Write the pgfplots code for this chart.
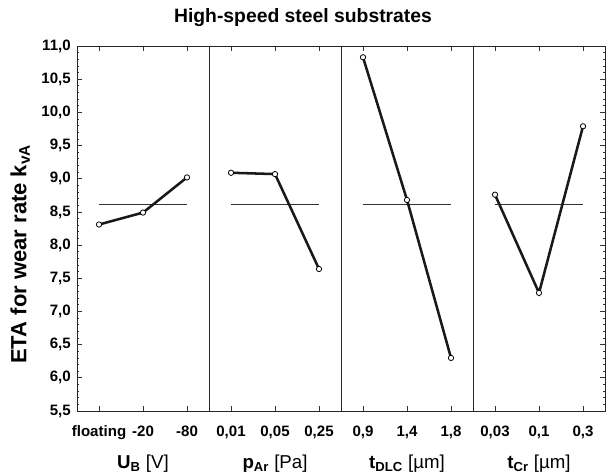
\documentclass[border=0pt]{standalone}
\usepackage{fontspec}
\setmainfont{Liberation Sans}
\usepackage{pgfplots}
\pgfplotsset{compat=1.18}
\usepgfplotslibrary{groupplots}

\pgfplotsset{
  meanline/.style={black!80, line width=0.7pt, forget plot},
  eta/.style={black!90, line width=1.9pt, mark=*, mark size=2pt,
    mark options={fill=white, draw=black, line width=0.6pt}},
}

\begin{document}
\begin{tikzpicture}
\begin{groupplot}[
  group style={group size=4 by 1, horizontal sep=0pt, group name=G},
  scale only axis, width=99pt, height=273.75pt,
  xmin=0.5, xmax=3.5, ymin=5.5, ymax=11,
  xtick={1,2,3}, xtick pos=both, tick align=inside,
  major tick length=3.5pt, minor tick length=1.8pt,
  every tick/.style={black!80, line width=0.5pt},
  axis line style={black!85, line width=0.6pt},
  ytick={5.5,6,6.5,7,7.5,8,8.5,9,9.5,10,10.5,11},
  minor y tick num=4,
  /pgf/number format/use comma, /pgf/number format/fixed,
  /pgf/number format/fixed zerofill, /pgf/number format/precision=1,
  /pgf/number format/assume math mode=true,
  xticklabel style={font=\bfseries\fontsize{11.3}{13}\selectfont, anchor=base, yshift=-19pt},
  yticklabel style={font=\bfseries\fontsize{11.3}{13}\selectfont, anchor=east, inner sep=0pt, xshift=-4.5pt},
  xlabel style={font=\fontsize{14}{16}\selectfont, at={(rel axis cs:0.5,0)}, anchor=base, yshift=-43pt},
]
\nextgroupplot[ytick pos=left, xticklabels={floating,-20,-80},
  xlabel={\textbf{U\textsubscript{B}} [V]},
  ylabel={ETA for wear rate k\textsubscript{vA}},
  ylabel style={font=\bfseries\fontsize{16.5}{18}\selectfont, at={(rel axis cs:-0.43,0.43)}, anchor=center}]
\addplot[meanline] coordinates {(1,8.61) (3,8.61)};
\addplot[eta] coordinates {(1,8.31) (2,8.49) (3,9.02)};

\nextgroupplot[ytick=\empty, xticklabels={{0,01},{0,05},{0,25}},
  xlabel={\textbf{p\textsubscript{Ar}} [Pa]}]
\addplot[meanline] coordinates {(1,8.61) (3,8.61)};
\addplot[eta] coordinates {(1,9.09) (2,9.07) (3,7.64)};

\nextgroupplot[ytick=\empty, xticklabels={{0,9},{1,4},{1,8}},
  xlabel={\textbf{t\textsubscript{DLC}} [µm]}]
\addplot[meanline] coordinates {(1,8.61) (3,8.61)};
\addplot[eta] coordinates {(1,10.83) (2,8.68) (3,6.30)};

\nextgroupplot[ytick pos=right, yticklabels={}, xticklabels={{0,03},{0,1},{0,3}},
  xlabel={\textbf{t\textsubscript{Cr}} [µm]}]
\addplot[meanline] coordinates {(1,8.61) (3,8.61)};
\addplot[eta] coordinates {(1,8.76) (2,7.28) (3,9.79)};
\end{groupplot}
\node[font=\bfseries\fontsize{14.5}{16}\selectfont] at ([shift={(169.5pt,294.75pt)}]G c1r1.south west) {High-speed steel substrates};
\pgfresetboundingbox
\path[use as bounding box] ([shift={(-57.75pt,-45.75pt)}]G c1r1.south west) rectangle ++(454.5pt,354pt);
\end{tikzpicture}
\end{document}
